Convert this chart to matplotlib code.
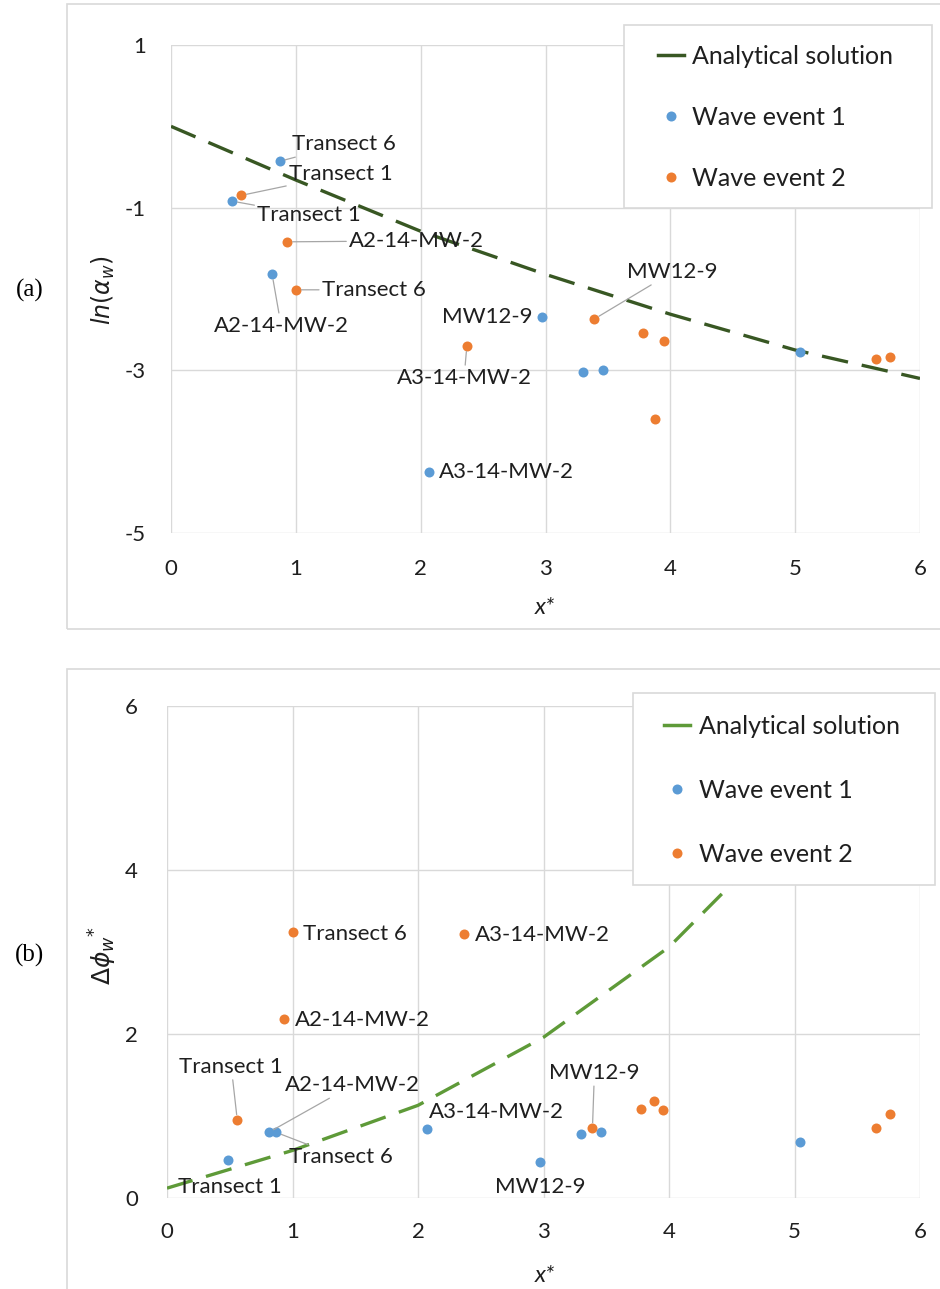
import matplotlib
matplotlib.use('Agg')
import matplotlib.pyplot as plt
from matplotlib.patches import Rectangle
from matplotlib.lines import Line2D

W, H = 940, 1289

# ---------------- data ----------------
x_curve = [0, 1, 2, 3, 4, 5, 6]
ln_alpha_curve = [0.0, -0.66, -1.29, -1.82, -2.31, -2.75, -3.10]
dphi_curve = [0.12, 0.58, 1.13, 1.96, 3.06, 4.6, 6.4]

x_ev1 = [0.87, 0.49, 0.81, 2.97, 3.30, 3.46, 2.07, 5.04]
ln_alpha_ev1 = [-0.43, -0.92, -1.82, -2.35, -3.02, -2.99, -4.25, -2.78]
dphi_ev1 = [0.80, 0.46, 0.80, 0.44, 0.78, 0.80, 0.84, 0.68]
labels_ev1 = ['Transect 6', 'Transect 1', 'A2-14-MW-2', 'MW12-9', '', '', 'A3-14-MW-2', '']

x_ev2 = [0.56, 0.93, 1.00, 2.37, 3.39, 3.78, 3.95, 3.88, 5.65, 5.76]
ln_alpha_ev2 = [-0.85, -1.42, -2.01, -2.70, -2.37, -2.54, -2.64, -3.60, -2.86, -2.83]
dphi_ev2 = [0.95, 2.18, 3.24, 3.22, 0.85, 1.09, 1.07, 1.18, 0.85, 1.02]
labels_ev2 = ['Transect 1', 'A2-14-MW-2', 'Transect 6', 'A3-14-MW-2', 'MW12-9', '', '', '', '', '']

xticks = [0, 1, 2, 3, 4, 5, 6]
yticks_a = [-5, -3, -1, 1]
yticks_b = [0, 2, 4, 6]

# label placement (offset in points, ha, leader line)
place_a1 = {0: (8.6, 12.2, 'left', True), 1: (18, -10, 'left', True), 2: (6.5, -37, 'center', True),
            3: (-7, 0, 'right', False), 6: (7, 0, 'left', False)}
place_a2 = {0: (34.6, 15.1, 'left', True), 1: (44.6, 0.7, 'left', True), 2: (18.7, 0, 'left', True),
            3: (-2, -23, 'center', True), 4: (23.8, 33.8, 'left', True)}
place_b1 = {1: (0.7, -19.4, 'center', False), 2: (11.5, 33.8, 'left', True), 0: (9.4, -18, 'left', True),
            6: (1.4, 12.4, 'left', False), 3: (0.7, -18, 'center', False)}
place_b2 = {0: (-4.3, 38.2, 'center', True), 1: (7.9, -0.7, 'left', False), 2: (7.9, -1.4, 'left', False),
            3: (7.9, -0.7, 'left', False), 4: (1.4, 39.6, 'center', True)}

BLUE = '#5B9BD5'
ORANGE = '#ED7D31'
GREEN_A = '#385723'
GREEN_B = '#5E9A38'
GRID = '#D9D9D9'
TXT = '#1F1F1F'
FONT = 'Lato'
FS = 16
FS_LEG = 18

plt.rcParams['font.family'] = [FONT, 'DejaVu Sans']
plt.rcParams['mathtext.fontset'] = 'dejavusans'
plt.rcParams['axes.unicode_minus'] = False

fig = plt.figure(figsize=(W / 100, H / 100), dpi=100)
fig.patch.set_facecolor('white')


def fx(px):
    return px / W


def fy(py):
    return 1 - py / H


def make_axes(l, t, r, b):
    return fig.add_axes([fx(l), fy(b), fx(r) - fx(l), fy(t) - fy(b)])


# outer chart frames
fig.add_artist(Rectangle((fx(67), fy(629)), fx(1000) - fx(67), fy(4) - fy(629), transform=fig.transFigure,
                         fill=False, edgecolor=GRID, lw=1.2, zorder=0))
fig.add_artist(Rectangle((fx(67), fy(1400)), fx(1000) - fx(67), fy(669) - fy(1400), transform=fig.transFigure,
                         fill=False, edgecolor=GRID, lw=1.2, zorder=0))

axa = make_axes(171, 45, 920, 533)
axb = make_axes(167, 706, 920, 1198)


def style(ax, yt, ylim, xpad, ypad):
    ax.set_xlim(0, 6)
    ax.set_ylim(*ylim)
    ax.set_xticks(xticks)
    ax.set_yticks(yt)
    ax.grid(True, color=GRID, lw=1.0, zorder=0)
    ax.set_axisbelow(True)
    for s in ax.spines.values():
        s.set_visible(False)
    ax.tick_params(axis='x', length=0, pad=xpad, labelsize=FS, labelcolor=TXT)
    ax.tick_params(axis='y', length=0, pad=ypad, labelsize=FS, labelcolor=TXT)


style(axa, yticks_a, (-5, 1), 19, 18)
style(axb, yticks_b, (0, 6), 17, 21)

MS = 7.2


def draw(ax, yc, col_line, y1, y2, pl1, pl2):
    ax.plot(x_curve, yc, color=col_line, lw=2.4, dashes=(8, 4.2), zorder=2, solid_capstyle='butt')
    ax.plot(x_ev1, y1, 'o', color=BLUE, ms=MS, mec='none', zorder=3)
    ax.plot(x_ev2, y2, 'o', color=ORANGE, ms=MS, mec='none', zorder=3)
    for xs, ys, labs, pl in ((x_ev1, y1, labels_ev1, pl1), (x_ev2, y2, labels_ev2, pl2)):
        for i, lab in enumerate(labs):
            if not lab:
                continue
            dx, dy, ha, leader = pl[i]
            ap = dict(arrowstyle='-', color='#A6A6A6', lw=0.9, shrinkA=0, shrinkB=4) if leader else None
            ax.annotate(lab, xy=(xs[i], ys[i]), xytext=(dx, dy), textcoords='offset points',
                        ha=ha, va='center', fontsize=FS, color=TXT, arrowprops=ap, zorder=4)


draw(axa, ln_alpha_curve, GREEN_A, ln_alpha_ev1, ln_alpha_ev2, place_a1, place_a2)
draw(axb, dphi_curve, GREEN_B, dphi_ev1, dphi_ev2, place_b1, place_b2)

# legends (box drawn separately, covering chart content)
for (l, t, r, b), col, (hx, ty), lsp, htp in (((624, 25, 932, 208), GREEN_A, (658, 45), 1.52, 0.3),
                                             ((633, 693, 935, 885), GREEN_B, (664, 715), 1.64, 0.36)):
    fig.add_artist(Rectangle((fx(l), fy(b)), fx(r) - fx(l), fy(t) - fy(b), transform=fig.transFigure,
                             facecolor='white', edgecolor=GRID, lw=1.2, zorder=2))
    handles = [Line2D([], [], color=col, lw=2.5),
               Line2D([], [], ls='none', marker='o', color=BLUE, ms=MS, mec='none'),
               Line2D([], [], ls='none', marker='o', color=ORANGE, ms=MS, mec='none')]
    leg = fig.legend(handles, ['Analytical solution', 'Wave event 1', 'Wave event 2'],
                     loc='upper left', bbox_to_anchor=(fx(hx), fy(ty)), bbox_transform=fig.transFigure,
                     frameon=False, borderpad=0, borderaxespad=0, handlelength=1.04, handletextpad=htp,
                     labelspacing=lsp, fontsize=FS_LEG, numpoints=1)
    leg.set_zorder(5)
    for t_ in leg.get_texts():
        t_.set_color(TXT)

# axis titles and panel labels
fig.text(fx(103), fy(290), r'$ln(\alpha_w)$', rotation=90, ha='center', va='center', fontsize=17, color=TXT)
fig.text(fx(103), fy(955), r'$\Delta\phi_w{}^{*}$', rotation=90, ha='center', va='center', fontsize=18, color=TXT)
fig.text(fx(545), fy(607), 'x*', ha='center', va='center', fontsize=17, style='italic', color=TXT)
fig.text(fx(545), fy(1275), 'x*', ha='center', va='center', fontsize=17, style='italic', color=TXT)
fig.text(fx(30), fy(290), '(a)', ha='center', va='center', fontsize=18, family='Liberation Serif', color='black')
fig.text(fx(30), fy(955), '(b)', ha='center', va='center', fontsize=18, family='Liberation Serif', color='black')

fig.savefig('out.png', dpi=100)
